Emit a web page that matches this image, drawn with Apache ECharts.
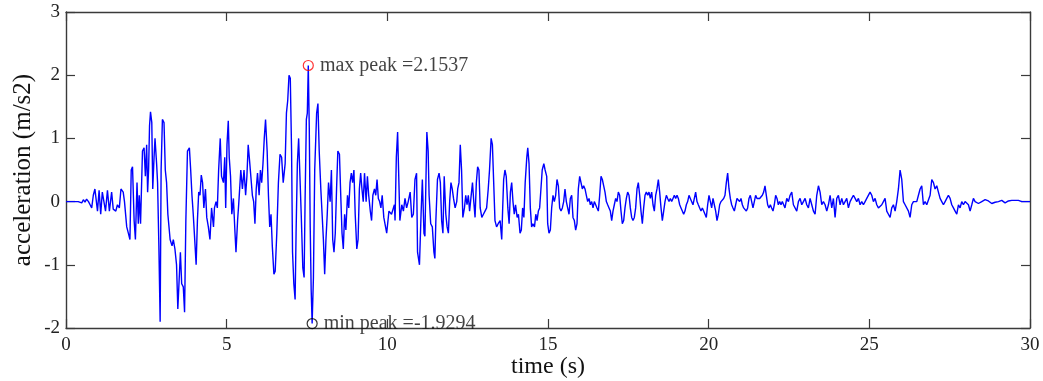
<!DOCTYPE html>
<html>
<head>
<meta charset="utf-8">
<script src="https://cdn.jsdelivr.net/npm/echarts@6/dist/echarts.min.js"></script>
<style>html,body{margin:0;padding:0;background:#fff}#c{width:1043px;height:381px}</style>
</head>
<body>
<div id="c"></div>
<script>
// ---- data (time in s, acceleration in m/s2) ----
// irregularly read turning points, 0 - 15 s
const timesA = [0,0.38,0.44,0.49,0.54,0.59,0.64,0.70,0.75,0.80,0.85,0.90,0.98,1.03,1.08,1.13,1.19,1.23,1.29,1.35,1.42,1.47,1.55,1.60,1.66,1.71,1.78,1.82,1.89,1.94,1.99,2.03,2.07,2.12,2.16,2.21,2.25,2.28,2.32,2.38,2.43,2.47,2.51,2.54,2.57,2.60,2.63,2.67,2.70,2.74,2.77,2.82,2.85,2.89,2.93,2.96,3.00,3.05,3.09,3.13,3.17,3.24,3.30,3.34,3.39,3.44,3.48,3.52,3.56,3.60,3.65,3.69,3.73,3.78,3.84,3.88,3.92,3.96,4.00,4.05,4.09,4.13,4.17,4.21,4.25,4.29,4.34,4.38,4.43,4.48,4.53,4.59,4.62,4.67,4.71,4.75,4.80,4.84,4.90,4.94,4.97,5.01,
5.05,5.08,5.12,5.16,5.21,5.26,5.29,5.34,5.38,5.44,5.49,5.54,5.59,5.63,5.67,5.72,5.76,5.80,5.84,5.88,5.92,5.96,6.01,6.05,6.09,6.13,6.17,6.21,6.26,6.30,6.34,6.38,6.42,6.47,6.51,6.56,6.61,6.66,6.71,6.76,6.82,6.86,6.90,6.94,6.98,7.02,7.05,7.09,7.13,7.16,7.20,7.24,7.28,7.32,7.37,7.41,7.44,7.48,7.51,7.54,7.57,7.60,7.63,7.66,7.70,7.74,7.80,7.84,7.88,7.93,7.97,8.01,8.05,8.09,8.13,8.17,8.22,8.26,8.30,8.34,8.38,8.42,8.46,8.51,8.55,8.59,8.63,8.67,8.71,8.76,8.80,8.84,8.88,8.92,8.96,9.00,9.05,9.09,9.13,9.17,9.21,9.25,9.29,9.34,9.38,9.42,9.47,9.51,9.55,9.60,9.64,9.68,9.72,9.76,9.80,9.84,9.89,
9.98,10.05,10.13,10.22,10.24,10.28,10.32,10.36,10.39,10.45,10.50,10.55,10.60,10.65,10.71,10.76,10.81,10.86,10.91,10.94,11.00,11.05,11.09,11.14,11.17,11.20,11.23,11.27,11.30,11.35,11.40,11.45,11.48,11.51,11.56,11.61,11.65,11.69,11.73,11.77,11.82,11.86,11.90,11.94,11.98,12.02,12.06,12.11,12.16,12.19,12.23,12.27,12.31,12.35,12.40,12.44,12.48,12.52,12.56,12.60,12.65,12.69,12.73,12.77,12.81,12.85,12.89,12.94,12.99,13.04,13.09,13.14,13.18,13.23,13.27,13.31,13.35,13.40,13.45,13.51,13.56,13.59,13.62,13.66,13.70,13.75,13.79,13.83,13.87,13.91,13.95,13.99,14.04,14.08,14.13,14.17,14.21,14.25,14.29,14.34,14.37,14.41,14.45,14.49,14.53,14.58,14.62,14.66,14.70,14.74,14.78,14.82,14.87,14.91,14.96];
const accA = [0,0,0.02,-0.02,0.03,-0.01,0.04,0.0,-0.05,-0.1,0.1,0.2,-0.15,0.18,-0.2,0.15,0.18,-0.15,0.18,-0.15,0.15,-0.12,-0.15,-0.05,-0.1,0.2,0.15,0.0,-0.4,-0.5,-0.6,0.5,0.55,-0.3,-0.6,0.3,-0.35,0.1,-0.35,0.8,0.85,0.4,0.9,0.15,0.5,1.2,1.42,1.25,0.2,0.7,1.0,0.6,0.3,-0.7,-1.9,0.5,1.3,1.25,0.5,0.3,-0.2,-0.6,-0.7,-0.6,-0.75,-1.0,-1.7,-1.7,-0.8,-1.3,-1.35,-1.75,-0.3,0.8,0.85,0.5,0.1,-0.2,-0.55,-1.0,-0.3,0.15,0.1,0.42,0.3,-0.1,0.2,-0.25,-0.4,-0.6,-0.1,-0.4,-0.1,0.0,-0.1,0.5,1.0,0.4,0.3,0.7,-0.1,0.9,
1.28,0.7,0.4,-0.2,0.05,-0.5,-0.8,-0.3,0.0,0.5,0.2,0.5,0.1,0.4,0.9,0.6,0.35,0.1,0.0,-0.35,0.2,0.45,0.1,0.5,0.3,0.6,1.0,1.3,0.8,0.1,-0.4,-0.2,-0.7,-1.15,-1.1,-0.5,0.3,0.75,0.7,0.3,0.6,1.4,1.6,2.0,1.95,0.8,-0.8,-1.3,-1.55,-0.5,0.6,1.0,0.4,-0.2,-1.05,-1.2,0.0,1.3,1.4,2.1537,1.2,-0.4,-1.4,-1.9294,-1.2,0.5,1.4,1.55,0.8,0.2,-0.2,-0.6,-1.15,-0.6,-0.2,0.3,0.0,0.5,-0.6,-0.8,-0.5,0.2,0.8,0.75,0.1,-0.5,-0.75,-0.2,-0.45,0.1,-0.1,0.3,0.45,0.3,0.5,-0.2,-0.75,-0.6,0.2,0.45,0.2,0.0,0.45,0.0,0.4,0.1,-0.15,-0.3,0.1,0.2,0.1,0.35,0.05,0.0,-0.1,0.1,-0.25,
-0.5,-0.15,-0.2,-0.05,-0.3,0.7,1.1,1.1,-0.3,-0.05,-0.15,0.05,-0.1,0.0,0.15,-0.25,-0.2,0.35,0.45,-0.8,-1.0,-0.2,0.35,-0.5,-0.55,0.3,1.1,0.8,0.1,-0.35,-0.4,-0.8,-0.9,-0.3,0.35,0.45,0.3,-0.3,-0.5,0.4,-0.2,-0.4,-0.5,0.0,0.3,0.2,0.05,-0.1,0.0,0.2,0.3,0.9,0.5,-0.25,-0.1,0.1,-0.05,0.1,-0.15,0.05,0.3,0.0,-0.25,0.3,0.55,0.5,-0.1,-0.25,-0.2,-0.15,-0.1,0.2,0.5,1.0,0.9,0.3,-0.3,-0.4,-0.35,-0.3,-0.6,-0.1,0.35,0.5,0.4,-0.1,-0.35,0.15,0.3,0.0,-0.2,-0.05,-0.25,-0.2,-0.5,-0.45,-0.1,-0.25,0.3,0.7,0.85,0.6,-0.1,-0.4,-0.35,-0.4,-0.2,-0.3,-0.15,-0.1,0.2,0.5,0.6,0.5,0.4];

// regularly read record, 15 - 22.4 s (start time, sample step, values)
const startB = 14.99, stepB = 0.04149;
const accB = [-0.35,-0.5,-0.45,-0.1,0.1,0.0,0.1,0.35,0.25,-0.1,-0.15,-0.1,0.0,0.2,0.0,-0.1,-0.2,0.05,0.1,-0.25,-0.3,-0.45,-0.35,0.2,0.4,0.3,0.2,0.25,0.2,0.1,0.0,0.05,-0.05,0.0,-0.1,0.0,-0.05,-0.1,-0.15,0.1,0.4,0.35,0.25,0.15,0.0,-0.05,-0.1,-0.15,-0.3,-0.15,-0.05,0.05,0.0,0.15,0.1,-0.15,-0.35,-0.3,-0.1,0.05,0.15,0.1,-0.1,-0.25,-0.3,-0.25,-0.1,0.2,0.3,0.1,-0.15,-0.35,-0.1,0.1,0.15,0.1,0.15,0.05,0.15,-0.05,-0.15,0.1,0.2,0.35,0.15,-0.1,-0.3,-0.15,0.0,0.1,0.05,0.0,0.05,0.0,0.05,0.1,0.05,0.1,0.05,-0.05,-0.1,-0.15,-0.2,-0.15,-0.05,0.0,0.1,0.05,0.05,-0.05,0.05,0.15,0.0,-0.05,-0.1,-0.15,-0.1,-0.15,-0.2,-0.25,-0.05,0.1,0.0,-0.1,0.05,-0.05,-0.15,-0.3,-0.2,-0.05,0.0,0.0,0.05,0.1,0.3,0.45,0.2,0.05,-0.05,-0.1,-0.15,-0.05,0.05,0.05,0.0,0.05,-0.05,-0.1,-0.1,-0.15,-0.1,0.05,0.1,0.0,-0.1,0.0,0.1,0.05,0.05,0.05,0.05,0.1,0.15,0.25,0.1,-0.05,-0.1,-0.05,-0.1,-0.15,-0.05,0.1,0.05,-0.05,0.0,-0.05,0.0,-0.05,-0.1];

// regularly read record, 22.4 - 30 s
const startC = 22.43, stepC = 0.05187;
const accC = [0.05,0.0,0.1,0.15,-0.05,-0.05,-0.15,0.0,0.05,-0.05,0.0,0.05,-0.05,-0.1,0.05,-0.05,-0.15,-0.2,0.1,0.25,0.15,-0.05,0.0,-0.05,-0.15,-0.05,0.1,-0.1,0.05,-0.25,0.05,0.1,-0.05,0.05,-0.05,0.0,0.05,-0.1,0.0,0.05,0.1,0.05,0.0,0.05,-0.05,0.0,-0.05,0.0,0.05,0.05,0.15,0.1,0.0,0.05,-0.05,-0.1,-0.1,-0.05,0.0,0.05,-0.15,-0.2,-0.25,-0.1,-0.05,-0.15,0.0,0.2,0.5,0.35,0.0,-0.05,-0.05,-0.15,-0.25,-0.05,0.0,0.0,0.0,0.1,0.2,0.25,-0.05,0.0,-0.05,-0.05,0.1,0.35,0.3,0.2,0.25,0.15,0.05,0.0,-0.05,0.0,0.05,0.1,0.05,-0.05,-0.1,-0.15,-0.2,-0.05,-0.1,0.0,-0.05,0.0,0.0,-0.05,-0.15,-0.05,0.05,0.0,0.0,-0.03,-0.02,0.0,0.02,0.03,0.02,0.01,-0.02,-0.03,-0.02,-0.01,0.0,0.0,0.01,0.02,0.0,-0.02,-0.01,0.01,0.02,0.02,0.02,0.02,0.02,0.02,0.01,0.0,0.0,0.0,0.0,0.0,0.0];

// peaks
const peakTimes = [7.54, 7.66];
const peakValues = [2.1537, -1.9294];
const peakLabels = ['max peak =2.1537', 'min peak =-1.9294'];

// axis ranges / ticks
const xRange = [0, 30], xStep = 5;
const yRange = [-2, 3], yStep = 1;
const xTitle = 'time (s)';
const yTitle = 'acceleration (m/s2)';

// ---- build ----
const record = [];
timesA.forEach((t, i) => record.push([t, accA[i]]));
accB.forEach((a, i) => record.push([+(startB + i * stepB).toFixed(3), a]));
accC.forEach((a, i) => record.push([+(startC + i * stepC).toFixed(3), a]));

const FONT = "'Liberation Serif', 'DejaVu Serif', serif";
const frame = { color: '#3a3a3a', width: 1.4 };
const tickStyle = { inside: true, length: 9, lineStyle: { color: '#3a3a3a', width: 1.2 } };

const chart = echarts.init(document.getElementById('c'), null, { renderer: 'canvas' });
chart.setOption({
  backgroundColor: '#fff',
  animation: false,
  grid: { left: 66, right: 13, top: 12, bottom: 53, containLabel: false, outerBoundsMode: 'none' },
  xAxis: [
    { type: 'value', min: xRange[0], max: xRange[1], interval: xStep, position: 'bottom',
      name: xTitle, nameLocation: 'middle', nameGap: 27, nameMoveOverlap: false,
      nameTextStyle: { fontFamily: FONT, fontSize: 24, color: '#111' },
      axisLine: { show: true, onZero: false, lineStyle: frame },
      axisTick: tickStyle, splitLine: { show: false },
      axisLabel: { fontFamily: FONT, fontSize: 19, color: '#222', margin: 8 } },
    { type: 'value', min: xRange[0], max: xRange[1], interval: xStep, position: 'top',
      axisLine: { show: true, onZero: false, lineStyle: frame },
      axisTick: tickStyle, splitLine: { show: false }, axisLabel: { show: false } }
  ],
  yAxis: [
    { type: 'value', min: yRange[0], max: yRange[1], interval: yStep, position: 'left',
      name: yTitle, nameLocation: 'middle', nameGap: 30, nameMoveOverlap: false,
      nameTextStyle: { fontFamily: FONT, fontSize: 25, color: '#111' },
      axisLine: { show: true, onZero: false, lineStyle: frame },
      axisTick: tickStyle, splitLine: { show: false },
      axisLabel: { fontFamily: FONT, fontSize: 19, color: '#222', margin: 6 } },
    { type: 'value', min: yRange[0], max: yRange[1], interval: yStep, position: 'right',
      axisLine: { show: true, onZero: false, lineStyle: frame },
      axisTick: tickStyle, splitLine: { show: false }, axisLabel: { show: false } }
  ],
  series: [
    { type: 'line', data: record, showSymbol: false, symbol: 'none', clip: true,
      lineStyle: { color: '#0000ff', width: 1.4 }, z: 2 },
    { type: 'scatter', z: 5, symbol: 'circle', symbolSize: 10,
      data: peakTimes.map((t, i) => ({
        value: [t, peakValues[i]],
        itemStyle: { color: 'rgba(255,255,255,0)', borderColor: i === 0 ? '#ff0000' : '#000', borderWidth: 1.2 },
        label: { show: true, position: 'right', distance: 6, formatter: peakLabels[i],
          fontFamily: FONT, fontSize: 20, color: '#111' }
      })) }
  ]
});
</script>
</body>
</html>
